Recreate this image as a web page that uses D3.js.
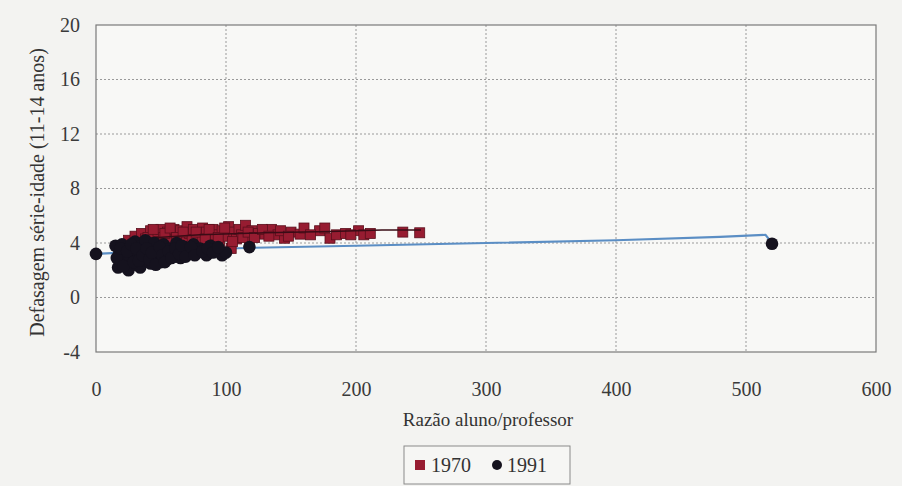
<!DOCTYPE html>
<html>
<head>
<meta charset="utf-8">
<script src="https://cdn.jsdelivr.net/npm/d3@7"></script>
<style>
  html, body { margin: 0; padding: 0; background: #f3f3f1; }
  svg { display: block; }
</style>
</head>
<body>
<svg id="chart" width="902" height="486"></svg>
<script>
// 1970 series (squares): [razão aluno/professor, defasagem]
const pts1970 = [
  [25,4.2],[30,4.5],[35,4.7],[38,4.3],[42,4.9],[45,4.6],[48,4.1],[50,5.0],[52,4.4],[55,4.8],
  [58,4.2],[60,5.0],[63,4.6],[65,4.9],[68,4.3],[70,5.2],[72,4.7],[75,5.0],[78,4.5],[80,4.1],
  [82,5.1],[85,4.8],[88,4.4],[90,5.0],[92,4.6],[95,3.9],[97,4.9],[100,4.5],[102,5.2],[104,3.6],
  [106,4.8],[108,4.3],[110,5.0],[112,4.6],[115,5.3],[118,4.2],[120,4.9],[125,4.7],[130,4.65],
  [135,5.0],[140,4.6],[145,4.35],[150,4.8],[157,4.65],[160,5.1],[172,4.9],[176,5.1],[180,4.35],
  [185,4.6],[192,4.7],[202,4.9],[206,4.6],[211,4.7],[236,4.8],[249,4.75],
  [33,4.0],[40,4.4],[44,5.0],[53,4.7],[57,5.1],[62,4.4],[67,4.8],[74,4.2],[77,4.8],[84,4.3],
  [87,5.0],[94,4.4],[99,5.1],[105,4.1],[113,4.4],[117,4.8],[122,4.4],[128,5.0],[133,4.5],
  [142,4.9],[148,4.5],[165,4.6],[196,4.6]
];
// 1991 series (circles)
const pts1991 = [
  [0,3.2],[15,3.8],[17,2.2],[18,3.3],[20,3.9],[22,2.6],[23,3.0],[25,2.0],[26,3.6],[28,2.4],
  [30,4.1],[30,2.9],[32,3.3],[34,2.2],[35,3.8],[37,2.7],[38,4.2],[40,3.1],[42,2.5],[44,3.6],
  [45,4.0],[47,2.9],[48,3.4],[50,2.6],[52,3.9],[54,3.2],[55,2.8],[57,3.6],[60,3.0],[62,4.0],
  [63,3.4],[65,2.9],[68,3.7],[70,3.2],[72,3.5],[75,3.9],[78,3.3],[80,3.6],[85,3.1],[88,3.8],
  [92,3.5],[97,3.1],[100,3.3],[118,3.7],[520,3.95],
  [16,2.9],[19,3.6],[21,2.3],[24,3.4],[27,3.9],[29,2.6],[31,3.6],[33,2.7],[36,3.1],[39,3.6],
  [41,2.8],[43,3.3],[46,2.4],[49,3.7],[51,3.1],[53,2.6],[56,3.4],[58,2.9],[61,3.6],[64,3.2],
  [66,3.8],[69,3.0],[73,3.7],[76,3.1],[82,3.4],[86,3.6],[90,3.3],[94,3.7]
];
// lines drawn through the series
const line1970 = [[30,4.3],[80,4.6],[130,4.75],[180,4.85],[220,4.95],[250,4.95]];
const line1991 = [[0,3.2],[20,3.3],[60,3.45],[120,3.65],[200,3.8],[300,4.0],[400,4.2],[480,4.45],[515,4.6],[520,4.0]];

const xTicks = [0, 100, 200, 300, 400, 500, 600];
const yTicks = [-4, 0, 4, 8, 12, 16, 20];
const seriesNames = ['1970', '1991'];

const font = '"Liberation Serif", "Times New Roman", Times, "DejaVu Serif", serif';
const svg = d3.select('#chart');
const m = {left: 96, right: 876, top: 25, bottom: 352};

const x = d3.scaleLinear().domain([0, 600]).range([m.left, m.right]);
const y = d3.scaleLinear().domain([-4, 20]).range([m.bottom, m.top]);

// plot background
svg.append('rect')
  .attr('x', m.left).attr('y', m.top)
  .attr('width', m.right - m.left).attr('height', m.bottom - m.top)
  .attr('fill', '#f8f8f6');

// grid
const grid = svg.append('g').attr('stroke', '#9a9a9a').attr('stroke-dasharray', '2,2').attr('stroke-width', 1);
grid.selectAll('line.gx').data(xTicks.slice(1, -1)).enter().append('line')
  .attr('x1', d => x(d)).attr('x2', d => x(d))
  .attr('y1', m.top).attr('y2', m.bottom);
grid.selectAll('line.gy').data(yTicks.slice(1, -1)).enter().append('line')
  .attr('y1', d => y(d)).attr('y2', d => y(d))
  .attr('x1', m.left).attr('x2', m.right);

svg.append('rect')
  .attr('x', m.left).attr('y', m.top)
  .attr('width', m.right - m.left).attr('height', m.bottom - m.top)
  .attr('fill', 'none').attr('stroke', '#7a7a7a').attr('stroke-width', 1.2);

// axes (labels only)
const xAxis = svg.append('g')
  .attr('transform', `translate(0,${m.bottom + 18})`)
  .call(d3.axisBottom(x).tickValues(xTicks).tickFormat(d => String(d)).tickSize(0).tickPadding(12));
const yAxis = svg.append('g')
  .attr('transform', `translate(${m.left - 14},0)`)
  .call(d3.axisLeft(y).tickValues(yTicks).tickFormat(d => String(d)).tickSize(0).tickPadding(2));
[xAxis, yAxis].forEach(a => {
  a.attr('font-family', font);
  a.select('.domain').remove();
  a.selectAll('text')
    .style('font-family', font)
    .attr('font-size', 20)
    .attr('fill', '#3a3a3a');
});

svg.append('text')
  .attr('x', (m.left + m.right) / 2 + 2).attr('y', 426)
  .attr('text-anchor', 'middle')
  .style('font-family', font).attr('font-size', 19).attr('fill', '#333')
  .text('Razão aluno/professor');

svg.append('text')
  .attr('transform', `translate(44,${(m.top + m.bottom) / 2 + 4}) rotate(-90)`)
  .attr('text-anchor', 'middle')
  .style('font-family', font).attr('font-size', 20).attr('fill', '#333')
  .text('Defasagem série-idade (11-14 anos)');

// lines
const lineGen = d3.line().x(d => x(d[0])).y(d => y(d[1]));
svg.append('path').datum(line1991)
  .attr('d', lineGen).attr('fill', 'none')
  .attr('stroke', '#5b8ec4').attr('stroke-width', 2.2);

// 1970 squares
const sq = 10;
svg.append('g').selectAll('rect').data(pts1970).enter().append('rect')
  .attr('x', d => x(d[0]) - sq / 2).attr('y', d => y(d[1]) - sq / 2)
  .attr('width', sq).attr('height', sq)
  .attr('fill', '#971c31').attr('stroke', '#5a0f1c').attr('stroke-width', 0.8);

svg.append('path').datum(line1970)
  .attr('d', lineGen).attr('fill', 'none')
  .attr('stroke', '#3a0c16').attr('stroke-width', 1.5);

// 1991 circles
svg.append('g').selectAll('circle').data(pts1991).enter().append('circle')
  .attr('cx', d => x(d[0])).attr('cy', d => y(d[1]))
  .attr('r', 6.3)
  .attr('fill', '#15121e');

// legend
const lg = svg.append('g').attr('transform', 'translate(404,446)');
lg.append('rect').attr('width', 166).attr('height', 38)
  .attr('fill', '#f6f6f4').attr('stroke', '#8a8a8a').attr('stroke-width', 1);
lg.append('rect').attr('x', 11).attr('y', 14).attr('width', 10).attr('height', 10)
  .attr('fill', '#971c31');
lg.append('circle').attr('cx', 93).attr('cy', 19).attr('r', 5).attr('fill', '#15121e');
lg.selectAll('text').data(seriesNames).enter().append('text')
  .attr('x', (d, i) => i === 0 ? 27 : 103).attr('y', 26)
  .style('font-family', font).attr('font-size', 20).attr('fill', '#333')
  .text(d => d);
</script>
</body>
</html>
